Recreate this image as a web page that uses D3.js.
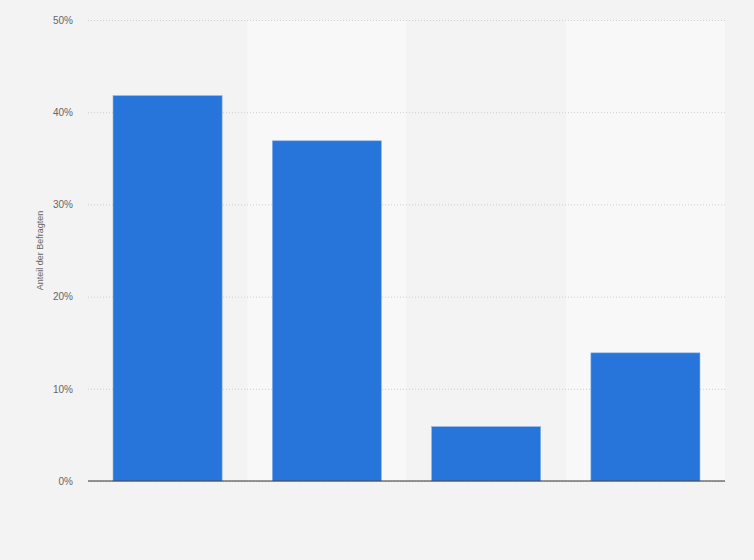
<!DOCTYPE html>
<html><head><meta charset="utf-8">
<script src="https://cdn.jsdelivr.net/npm/d3@7"></script>
<style>body{margin:0;background:#f4f4f4;}svg{display:block;font-family:"Liberation Sans",Arial,sans-serif;}</style>
</head><body><svg id="c" width="754" height="560"></svg>
<script>
const categories = ["A","B","C","D"];
const values = [41.8, 36.9, 5.9, 13.9];
const yTicks = [0, 10, 20, 30, 40, 50];
const yTitle = "Anteil der Befragten";

const svg = d3.select("#c");
const m = {l: 88, r: 29, t: 20, b: 79};
const W = 754, H = 560;
const x = d3.scaleBand().domain(categories).range([m.l, W - m.r]).paddingInner(0.315).paddingOuter(0.157);
const xb = d3.scaleBand().domain(categories).range([m.l, W - m.r]);
const y = d3.scaleLinear().domain([0, 50]).range([H - m.b, m.t]);

svg.append("rect").attr("width", W).attr("height", H).attr("fill", "#f3f3f3");
svg.selectAll("rect.band").data(categories.filter((d, i) => i % 2 === 1)).enter().append("rect")
  .attr("x", d => xb(d)).attr("width", xb.bandwidth())
  .attr("y", m.t).attr("height", y(0) - m.t).attr("fill", "#f8f8f8");

svg.append("g").attr("transform", `translate(${m.l},0)`)
  .call(d3.axisLeft(y).tickValues(yTicks).tickSize(-(W - m.l - m.r)).tickFormat(d => d + "%").tickPadding(15))
  .call(g => g.select(".domain").remove())
  .call(g => g.selectAll(".tick line").attr("stroke", "#cfcfcf").attr("stroke-dasharray", "1,2"))
  .call(g => g.selectAll(".tick text").attr("fill", "#666").attr("font-size", 10));

svg.selectAll("rect.bar").data(values).enter().append("rect")
  .attr("x", (d, i) => x(categories[i])).attr("width", x.bandwidth())
  .attr("y", d => y(d)).attr("height", d => y(0) - y(d))
  .attr("fill", "#2775db").attr("stroke", "#8fb6ea").attr("stroke-width", 0.6);

svg.append("line").attr("x1", m.l).attr("x2", W - m.r).attr("y1", y(0)).attr("y2", y(0))
  .attr("stroke", "#333").attr("stroke-width", 1.2);

svg.append("text").attr("transform", `translate(43,${(m.t + y(0)) / 2}) rotate(-90)`)
  .attr("text-anchor", "middle").attr("font-size", 9).attr("fill", "#666").text(yTitle);
</script></body></html>
